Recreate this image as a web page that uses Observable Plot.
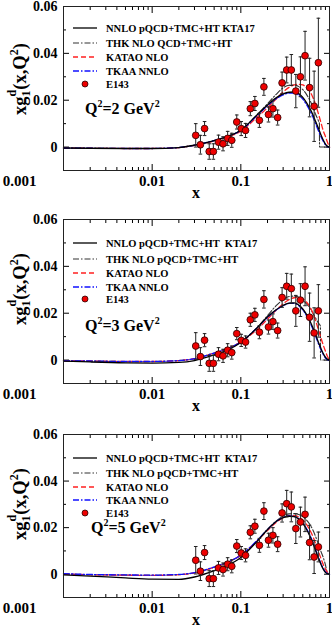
<!DOCTYPE html>
<html>
<head>
<meta charset="utf-8">
<script src="https://cdn.jsdelivr.net/npm/d3@7"></script>
<script src="https://cdn.jsdelivr.net/npm/@observablehq/plot@0.6"></script>
<style>
  html, body { margin: 0; padding: 0; background: #fff; }
  #chart { width: 332px; height: 628px; overflow: hidden; }
  #chart svg { display: block; }
</style>
</head>
<body>
<div id="chart"></div>
<script>
// ---------- data ----------
const xTicks = [0.001, 0.01, 0.1, 1];
const xTickLabels = ["0.001", "0.01", "0.1", "1"];
const yTicks = [0, 0.02, 0.04, 0.06];
const yTickLabels = ["0", "0.02", "0.04", "0.06"];
const seriesNames = ["NNLO pQCD+TMC+HT KTA17", "THK NLO QCD+TMC+HT", "KATAO NLO", "TKAA NNLO", "E143"];
const seriesNames23 = ["NNLO pQCD+TMC+HT  KTA17", "THK NLO pQCD+TMC+HT", "KATAO NLO", "TKAA NNLO", "E143"];
const q2Labels = ["2", "3", "5"];

const curveX = [0.001,0.002,0.005,0.01,0.02,0.03,0.05,0.07,0.1,0.15,0.2,0.25,0.3,0.35,0.4,0.45,0.5,0.55,0.6,0.65,0.7,0.75,0.8,0.85,0.9,0.95,1.0];

// Q2 = 2
const kta1   = [-0.0004,-0.0005,-0.0006,-0.0006,-0.0002,0.0008,0.0028,0.0045,0.0072,0.0135,0.0180,0.0210,0.0227,0.0234,0.0235,0.0228,0.0212,0.0190,0.0165,0.0138,0.0108,0.0080,0.0053,0.0030,0.0013,0.0003,0];
const katao1 = [-0.0004,-0.0005,-0.0006,-0.0006,-0.0002,0.0007,0.0026,0.0042,0.0068,0.0125,0.0168,0.0205,0.0235,0.0255,0.0265,0.0268,0.0265,0.0255,0.0238,0.0212,0.0180,0.0142,0.0105,0.0070,0.0045,0.0020,0];
const tkaa1  = [-0.0004,-0.0005,-0.0006,-0.0006,-0.0002,0.0008,0.0028,0.0045,0.0071,0.0132,0.0176,0.0206,0.0223,0.0230,0.0230,0.0222,0.0205,0.0182,0.0156,0.0128,0.0098,0.0070,0.0045,0.0025,0.0010,0.0002,0];
const thk1X  = [0.001,0.002,0.005,0.01,0.02,0.03,0.05,0.07,0.1,0.15,0.2,0.25,0.3,0.35,0.4,0.45,0.5,0.55,0.6,0.65,0.7,0.75,0.77,0.772,1.0];
const thk1   = [-0.0004,-0.0005,-0.0006,-0.0006,-0.0002,0.0008,0.0028,0.0045,0.0072,0.0135,0.0185,0.0225,0.0253,0.0264,0.0265,0.0258,0.0245,0.0225,0.0200,0.0170,0.0138,0.0112,0.0100,0,0];

// Q2 = 3
const kta2   = [-0.0004,-0.0008,-0.0012,-0.0013,-0.0010,-0.0002,0.0022,0.0042,0.0075,0.0135,0.0185,0.0215,0.0233,0.0243,0.0244,0.0235,0.0218,0.0195,0.0168,0.0138,0.0106,0.0076,0.0050,0.0028,0.0012,0.0003,0];
const katao2 = [-0.0003,-0.0004,-0.0006,-0.0006,-0.0002,0.0006,0.0030,0.0048,0.0078,0.0128,0.0175,0.0213,0.0240,0.0258,0.0266,0.0268,0.0262,0.0248,0.0228,0.0200,0.0166,0.0130,0.0095,0.0064,0.0038,0.0015,0];
const tkaa2  = [-0.0003,-0.0004,-0.0006,-0.0006,-0.0002,0.0006,0.0030,0.0048,0.0077,0.0135,0.0182,0.0213,0.0232,0.0242,0.0242,0.0232,0.0214,0.0190,0.0162,0.0132,0.0100,0.0070,0.0045,0.0024,0.0009,0.0002,0];
const thk2X  = [0.001,0.002,0.005,0.01,0.02,0.03,0.05,0.07,0.1,0.15,0.2,0.25,0.3,0.35,0.4,0.45,0.5,0.55,0.6,0.65,0.7,0.75,0.79,0.792,1.0];
const thk2   = [-0.0003,-0.0004,-0.0006,-0.0006,-0.0002,0.0006,0.0030,0.0048,0.0078,0.0135,0.0190,0.0232,0.0258,0.0271,0.0273,0.0268,0.0256,0.0240,0.0222,0.0200,0.0178,0.0158,0.0145,0,0];

// Q2 = 5
const kta3   = [-0.0003,-0.0008,-0.0016,-0.0021,-0.0022,-0.0012,0.0015,0.0037,0.0072,0.0138,0.0192,0.0226,0.0243,0.0249,0.0247,0.0237,0.0218,0.0193,0.0164,0.0133,0.0100,0.0070,0.0043,0.0022,0.0008,0.0002,0];
const katao3 = [0.0001,-0.0002,-0.0004,-0.0005,-0.0002,0.0006,0.0030,0.0050,0.0082,0.0140,0.0188,0.0222,0.0242,0.0251,0.0252,0.0246,0.0233,0.0214,0.0190,0.0162,0.0130,0.0098,0.0068,0.0042,0.0022,0.0008,0];
const tkaa3  = [0.0002,-0.0001,-0.0003,-0.0004,-0.0001,0.0007,0.0031,0.0051,0.0082,0.0142,0.0192,0.0226,0.0244,0.0250,0.0248,0.0238,0.0220,0.0196,0.0168,0.0137,0.0104,0.0073,0.0046,0.0025,0.0010,0.0003,0];
const thk3X  = curveX;
const thk3   = [0.0001,-0.0002,-0.0004,-0.0005,-0.0002,0.0006,0.0030,0.0050,0.0082,0.0140,0.0192,0.0228,0.0250,0.0259,0.0260,0.0256,0.0247,0.0233,0.0214,0.0190,0.0160,0.0128,0.0098,0.0072,0.0040,0.0005,0];

// E143 data
const e143X = [0.031,0.035,0.039,0.044,0.049,0.056,0.063,0.071,0.079,0.090,0.101,0.113,0.128,0.144,0.162,0.182,0.205,0.230,0.260,0.292,0.329,0.371,0.417,0.470,0.530,0.596,0.671,0.749];
const e143Y1 = [0.0050,0.0010,0.0079,-0.0019,-0.0019,0.0021,0.0014,0.0037,0.0029,0.0107,0.0079,0.0071,0.0164,0.0186,0.0114,0.0257,0.0139,0.0164,0.0126,0.0274,0.0329,0.0329,0.0239,0.0300,0.0390,0.0254,0.0174,0.0360];
const e143E1 = [0.0050,0.0040,0.0030,0.0033,0.0033,0.0030,0.0030,0.0030,0.0030,0.0030,0.0030,0.0030,0.0030,0.0030,0.0030,0.0036,0.0032,0.0036,0.0032,0.0046,0.0055,0.0066,0.0071,0.0085,0.0104,0.0125,0.0150,0.0190];
const e143Y2 = [0.0060,0.0015,0.0085,-0.0014,-0.0014,0.0025,0.0018,0.0042,0.0032,0.0113,0.0084,0.0077,0.0172,0.0193,0.0119,0.0259,0.0141,0.0164,0.0126,0.0267,0.0315,0.0305,0.0210,0.0256,0.0315,0.0183,0.0116,0.0210];
const e143E2 = [0.0057,0.0038,0.0028,0.0034,0.0034,0.0028,0.0028,0.0028,0.0028,0.0026,0.0026,0.0026,0.0028,0.0028,0.0028,0.0037,0.0030,0.0033,0.0032,0.0042,0.0055,0.0062,0.0066,0.0070,0.0083,0.0103,0.0107,0.0112];
const e143Y3 = [0.0060,0.0013,0.0093,-0.0019,-0.0019,0.0027,0.0020,0.0043,0.0034,0.0121,0.0091,0.0081,0.0180,0.0206,0.0124,0.0271,0.0146,0.0167,0.0129,0.0263,0.0303,0.0289,0.0196,0.0224,0.0257,0.0136,0.0074,0.0117];
const e143E3 = [0.0059,0.0040,0.0030,0.0034,0.0034,0.0028,0.0028,0.0028,0.0028,0.0028,0.0028,0.0028,0.0028,0.0030,0.0030,0.0036,0.0030,0.0033,0.0032,0.0039,0.0057,0.0064,0.0064,0.0064,0.0074,0.0074,0.0071,0.0064];

// ---------- styles ----------
const FONT = "'Liberation Serif', 'Times New Roman', serif";
const styles = {
  kta:   {stroke: "#000", strokeWidth: 1.3, dash: null},
  thk:   {stroke: "#333", strokeWidth: 1.1, dash: "6,2,1.5,2"},
  katao: {stroke: "#ff2020", strokeWidth: 1.3, dash: "5,3"},
  tkaa:  {stroke: "#1010ff", strokeWidth: 1.3, dash: "6,2,1.5,2"}
};

const xMinor = [];
for (const dec of [0.001, 0.01, 0.1]) for (let k = 2; k <= 9; k++) xMinor.push(+(k * dec).toPrecision(3));
const yMinor = [-0.01, 0.01, 0.03, 0.05];

const capSymbol = {draw(ctx) { ctx.moveTo(-1.8, 0); ctx.lineTo(1.8, 0); }};

function makePanel(cfg) {
  const {height, marginBottom, curves, pts, names, q2, legendRows, qPos, yLabelCenter} = cfg;
  const marginTop = 6, marginLeft = 63, marginRight = 3;
  const lineData = [];
  for (const c of curves) c.x.forEach((x, i) => lineData.push({key: c.key, x, y: c.y[i]}));
  const pointData = pts.x.map((x, i) => ({x, y: pts.y[i], e: pts.e[i]}));

  const lineMarks = curves.map(c => Plot.line(lineData.filter(d => d.key === c.key), {
    x: "x", y: "y", stroke: styles[c.key].stroke, strokeWidth: styles[c.key].strokeWidth,
    strokeDasharray: styles[c.key].dash, curve: "monotone-x"
  }));

  const plot = Plot.plot({
    width: 332, height, marginTop, marginLeft, marginRight, marginBottom,
    x: {type: "log", domain: [0.001, 1]},
    y: {domain: [-0.01, 0.06]},
    style: {fontFamily: FONT, fontWeight: "bold", background: "#fff", color: "#000", overflow: "visible"},
    marks: [
      // first decade label sits far left in the reference
      Plot.axisX({anchor: "bottom", ticks: xTicks.slice(0, 1), tickSize: 0, tickPadding: 5, fontSize: 15, dx: -44,
        tickFormat: d => xTickLabels[xTicks.indexOf(d)], label: null}),
      Plot.axisX({anchor: "bottom", ticks: xTicks.slice(1), tickSize: 0, tickPadding: 5, fontSize: 15,
        tickFormat: d => xTickLabels[xTicks.indexOf(d)], label: null}),
      Plot.axisX({anchor: "bottom", ticks: xTicks, tickSize: -6, tickFormat: () => "", label: null}),
      Plot.axisX({anchor: "bottom", ticks: xMinor, tickSize: -3, tickFormat: () => "", label: null}),
      Plot.axisX({anchor: "top", ticks: xTicks, tickSize: -6, tickFormat: () => "", label: null}),
      Plot.axisX({anchor: "top", ticks: xMinor, tickSize: -3, tickFormat: () => "", label: null}),
      Plot.axisY({anchor: "left", ticks: yTicks, tickSize: 0, tickPadding: 6, fontSize: 14,
        tickFormat: d => yTickLabels[yTicks.indexOf(d)], label: null}),
      Plot.axisY({anchor: "left", ticks: yTicks, tickSize: -6, tickFormat: () => "", label: null}),
      Plot.axisY({anchor: "left", ticks: yMinor, tickSize: -3, tickFormat: () => "", label: null}),
      Plot.axisY({anchor: "right", ticks: yTicks, tickSize: -6, tickFormat: () => "", label: null}),
      Plot.axisY({anchor: "right", ticks: yMinor, tickSize: -3, tickFormat: () => "", label: null}),
      ...lineMarks,
      Plot.ruleX(pointData, {x: "x", y1: d => d.y - d.e, y2: d => d.y + d.e, stroke: "#222", strokeWidth: 1}),
      Plot.dot(pointData, {x: "x", y: d => d.y - d.e, symbol: capSymbol, stroke: "#222", strokeWidth: 1}),
      Plot.dot(pointData, {x: "x", y: d => d.y + d.e, symbol: capSymbol, stroke: "#222", strokeWidth: 1}),
      Plot.dot(pointData, {x: "x", y: "y", r: 3.4, fill: "#ee0000", stroke: "#2a0000", strokeWidth: 0.8}),
      Plot.frame({stroke: "#222", strokeWidth: 1})
    ]
  });

  const svg = d3.select(plot);
  const frameBottom = height - marginBottom;

  // legend
  const keys = ["kta", "thk", "katao", "tkaa"];
  const lg = svg.append("g").attr("font-family", FONT).attr("font-weight", "bold").attr("font-size", 10.5)
    .attr("text-anchor", "start");
  names.forEach((name, i) => {
    const y = marginTop + legendRows[i];
    if (i < 4) {
      const s = styles[keys[i]];
      lg.append("line").attr("x1", 73).attr("x2", 97).attr("y1", y).attr("y2", y)
        .attr("stroke", s.stroke).attr("stroke-width", s.strokeWidth)
        .attr("stroke-dasharray", s.dash);
    } else {
      lg.append("circle").attr("cx", 85).attr("cy", y).attr("r", 3)
        .attr("fill", "#ee0000").attr("stroke", "#2a0000").attr("stroke-width", 0.8);
    }
    lg.append("text").attr("x", 106).attr("y", y).attr("dy", "0.35em").attr("text-anchor", "start").text(name);
  });

  // Q2 label
  const q = svg.append("text").attr("font-family", FONT).attr("font-weight", "bold").attr("font-size", 16)
    .attr("text-anchor", "start")
    .attr("x", qPos[0]).attr("y", marginTop + qPos[1]).attr("dy", "0.35em");
  q.append("tspan").text("Q");
  q.append("tspan").attr("font-size", 10).attr("dy", -7).text("2");
  q.append("tspan").attr("dy", 7).text("=" + q2 + " GeV");
  q.append("tspan").attr("font-size", 10).attr("dy", -7).text("2");

  // y label
  const yl = svg.append("text").attr("font-family", FONT).attr("font-weight", "bold").attr("font-size", 18.5)
    .attr("text-anchor", "middle")
    .attr("transform", `translate(26,${marginTop + yLabelCenter}) rotate(-90)`);
  yl.append("tspan").text("xg");
  yl.append("tspan").attr("font-size", 12).attr("dy", 4).text("1");
  yl.append("tspan").attr("font-size", 12).attr("dx", -6).attr("dy", -14).text("d");
  yl.append("tspan").attr("dy", 10).text("(x,Q");
  yl.append("tspan").attr("font-size", 12).attr("dy", -8).text("2");
  yl.append("tspan").attr("dy", 8).text(")");

  // x label
  svg.append("text").attr("font-family", FONT).attr("font-weight", "bold").attr("font-size", 16)
    .attr("text-anchor", "middle").attr("x", 196).attr("y", frameBottom + 28).text("x");

  return plot;
}

const panels = [
  {height: 213, marginBottom: 43, q2: q2Labels[0], names: seriesNames,
   curves: [{key: "thk", x: thk1X, y: thk1}, {key: "katao", x: curveX, y: katao1}, {key: "tkaa", x: curveX, y: tkaa1}, {key: "kta", x: curveX, y: kta1}],
   pts: {x: e143X, y: e143Y1, e: e143E1}, legendRows: [22, 37, 51, 65, 78], qPos: [85, 102], yLabelCenter: 73},
  {height: 215, marginBottom: 45, q2: q2Labels[1], names: seriesNames23,
   curves: [{key: "thk", x: thk2X, y: thk2}, {key: "katao", x: curveX, y: katao2}, {key: "tkaa", x: curveX, y: tkaa2}, {key: "kta", x: curveX, y: kta2}],
   pts: {x: e143X, y: e143Y2, e: e143E2}, legendRows: [24, 40, 54, 68, 80], qPos: [85, 106], yLabelCenter: 70},
  {height: 200, marginBottom: 31, q2: q2Labels[2], names: seriesNames23,
   curves: [{key: "thk", x: thk3X, y: thk3}, {key: "katao", x: curveX, y: katao3}, {key: "tkaa", x: curveX, y: tkaa3}, {key: "kta", x: curveX, y: kta3}],
   pts: {x: e143X, y: e143Y3, e: e143E3}, legendRows: [24, 39, 53, 66, 79], qPos: [91, 93], yLabelCenter: 70}
];

const root = document.getElementById("chart");
for (const p of panels) root.appendChild(makePanel(p));
</script>
</body>
</html>
